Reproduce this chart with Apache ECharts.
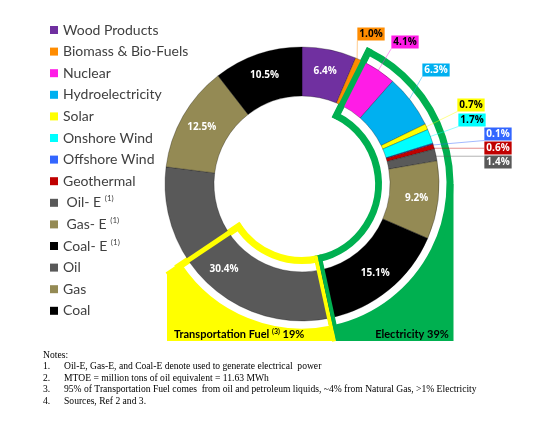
<!DOCTYPE html>
<html>
<head>
<meta charset="utf-8">
<script src="https://cdn.jsdelivr.net/npm/echarts@6/dist/echarts.min.js"></script>
<style>
  html, body { margin: 0; padding: 0; background: #fff; }
  #chart { width: 546px; height: 427px; }
</style>
</head>
<body>
<div id="chart"></div>
<script>
// Energy mix donut (share of total, %)
const categories = ['Wood Products', 'Biomass & Bio-Fuels', 'Nuclear', 'Hydroelectricity', 'Solar',
  'Onshore Wind', 'Offshore Wind', 'Geothermal', 'Oil- E', 'Gas- E', 'Coal- E', 'Oil', 'Gas', 'Coal'];
const legendLabels = ['Wood Products', 'Biomass & Bio-Fuels', 'Nuclear', 'Hydroelectricity', 'Solar',
  'Onshore Wind', 'Offshore Wind', 'Geothermal', ' Oil- E', ' Gas- E', 'Coal- E', 'Oil', 'Gas', 'Coal'];
const footnoteMarks = ['', '', '', '', '', '', '', '', '(1)', '(1)', '(1)', '', '', ''];
const shares = [6.4, 1.0, 4.1, 6.3, 0.7, 1.7, 0.1, 0.6, 1.4, 9.2, 15.1, 30.4, 12.5, 10.5];
const sliceColors = ['#7030A0', '#FF8C00', '#FF1CE6', '#00B0F0', '#FFFF00', '#00FFFF', '#3366FF',
  '#C00000', '#595959', '#948A54', '#000000', '#595959', '#948A54', '#000000'];
// text colour of the boxed outside labels (null = label drawn inside the slice)
const boxTextColors = [null, '#000', '#000', '#fff', '#000', '#000', '#fff', '#fff', '#fff',
  null, null, null, null, null];

const electricityFirst = 'Nuclear';
const electricityLast = 'Coal- E';
const electricityShare = 39;
const transportShare = 19;

const notes = [
  ['1.', 'Oil-E, Gas-E, and Coal-E denote used to generate electrical  power'],
  ['2.', 'MTOE = million tons of oil equivalent = 11.63 MWh'],
  ['3.', '95% of Transportation Fuel comes  from oil and petroleum liquids, ~4% from Natural Gas, >1% Electricity'],
  ['4.', 'Sources, Ref 2 and 3.']
];

// layout
const cx = 302, cy = 184, rIn = 88, rOut = 137;
const bandR0 = 76.5, bandR = 148, bandW = 7;
const boxBottom = 341, yellowLeft = 167;
const labelSpots = { 1: [371, 34], 2: [405, 42], 3: [436, 70], 4: [471, 105], 5: [472, 120],
  6: [498, 134], 7: [498, 148], 8: [498, 162] };

const GREEN = '#00B050', YELLOW = '#FFFF00';

const cum = [];
shares.reduce((acc, v, i) => { cum[i] = acc; return acc + v; }, 0);

function polar(f, r) {
  const a = f * 2 * Math.PI;
  return [cx + r * Math.sin(a), cy - r * Math.cos(a)];
}
function zrAngle(f) { return f * 2 * Math.PI - Math.PI / 2; }
function clamp(v, lo, hi) { return Math.max(lo, Math.min(hi, v)); }

const iFirst = categories.indexOf(electricityFirst);
const iLast = categories.indexOf(electricityLast);
const elecStart = cum[iFirst] / 100;
const elecEnd = (cum[iLast] + shares[iLast]) / 100;
const transStart = elecEnd;
const transEnd = elecEnd + transportShare / 100;

// radial line helpers
function radialAtY(f, y) {
  const a = f * 2 * Math.PI;
  const t = (y - cy) / -Math.cos(a);
  return [cx + t * Math.sin(a), y];
}
function radialAtX(f, x) {
  const a = f * 2 * Math.PI;
  const t = (x - cx) / Math.sin(a);
  return [x, cy - t * Math.cos(a)];
}
function offsetLine(p1, p2, f, d) {
  const a = f * 2 * Math.PI;
  const tx = Math.cos(a) * d, ty = Math.sin(a) * d;
  return { x1: p1[0] + tx, y1: p1[1] + ty, x2: p2[0] + tx, y2: p2[1] + ty };
}

const data = categories.map((name, i) => {
  const boxed = boxTextColors[i] !== null;
  return {
    name: name,
    value: shares[i],
    itemStyle: { color: sliceColors[i] },
    label: boxed ? {
      position: 'outside',
      color: boxTextColors[i],
      backgroundColor: sliceColors[i],
      padding: [1, 2],
      fontSize: 10,
      lineHeight: 11
    } : {
      position: 'inside',
      color: '#fff',
      fontSize: 10
    },
    labelLine: {
      show: boxed,
      lineStyle: { color: sliceColors[i], width: 1, opacity: 0.45 }
    }
  };
});

const outerRight = cx + bandR + bandW / 2;
const elecBottom = radialAtY(elecEnd, boxBottom);
const transCorner = radialAtX(transEnd, yellowLeft);

const graphics = [
  // filled boxes behind the donut
  { type: 'polygon', z: 0, shape: { points: [polar(transEnd, 140), transCorner, [yellowLeft, boxBottom], elecBottom, polar(elecEnd, 140)] },
    style: { fill: YELLOW } },
  { type: 'polygon', z: 0, shape: { points: [polar(0.25, 140), [outerRight, cy], [outerRight, boxBottom], elecBottom, polar(elecEnd, 140)] },
    style: { fill: GREEN } },
  // outline bands
  { type: 'sector', z: 1, shape: { cx: cx, cy: cy, r0: bandR0, r: bandR, startAngle: zrAngle(transStart), endAngle: zrAngle(transEnd), clockwise: true },
    style: { fill: '#fff', stroke: YELLOW, lineWidth: bandW } },
  { type: 'sector', z: 1, shape: { cx: cx, cy: cy, r0: bandR0, r: bandR, startAngle: zrAngle(elecStart), endAngle: zrAngle(elecEnd), clockwise: true },
    style: { fill: '#fff', stroke: GREEN, lineWidth: bandW } },
  // radial edges across the donut
  { type: 'line', z: 100, shape: { x1: polar(elecStart, bandR0 - 3.5)[0], y1: polar(elecStart, bandR0 - 3.5)[1], x2: polar(elecStart, bandR + 3.5)[0], y2: polar(elecStart, bandR + 3.5)[1] },
    style: { stroke: GREEN, lineWidth: 6 } },
  { type: 'line', z: 100, shape: { x1: polar(transEnd, bandR0 - 3.5)[0], y1: polar(transEnd, bandR0 - 3.5)[1], x2: transCorner[0], y2: transCorner[1] },
    style: { stroke: YELLOW, lineWidth: 5 } },
  { type: 'line', z: 100, shape: offsetLine(polar(elecEnd, bandR0 - 3.5), elecBottom, elecEnd, 2),
    style: { stroke: YELLOW, lineWidth: 4 } },
  { type: 'line', z: 100, shape: offsetLine(polar(elecEnd, bandR0 - 3.5), elecBottom, elecEnd, -2),
    style: { stroke: GREEN, lineWidth: 4 } },
  // box captions
  { type: 'text', z: 101, x: 174, y: 334,
    style: { text: 'Transportation Fuel {sup|(3)} ' + transportShare + '%', font: 'bold 11px Lato', fill: '#000',
      textVerticalAlign: 'middle', rich: { sup: { fontFamily: 'Lato', fontWeight: 'bold', fontSize: 7, verticalAlign: 'top', lineHeight: 8 } } } },
  { type: 'text', z: 101, x: 412, y: 334,
    style: { text: 'Electricity ' + electricityShare + '%', font: 'bold 11px Lato', fill: '#000', textAlign: 'center', textVerticalAlign: 'middle' } },
  // notes
  { type: 'text', z: 101, x: 43, y: 355, style: { text: 'Notes:', font: '9.6px "Liberation Serif"', fill: '#000', textVerticalAlign: 'middle' } }
];
notes.forEach((n, k) => {
  const y = 366.5 + k * 11.5;
  graphics.push({ type: 'text', z: 101, x: 43, y: y, style: { text: n[0], font: '9.6px "Liberation Serif"', fill: '#000', textVerticalAlign: 'middle' } });
  graphics.push({ type: 'text', z: 101, x: 64, y: y, style: { text: n[1], font: '9.6px "Liberation Serif"', fill: '#000', textVerticalAlign: 'middle' } });
});

const chart = echarts.init(document.getElementById('chart'));
chart.setOption({
  animation: false,
  backgroundColor: '#fff',
  legend: {
    data: categories,
    orient: 'vertical',
    left: 45,
    top: 17,
    icon: 'rect',
    itemWidth: 8,
    itemHeight: 8,
    itemGap: 5.6,
    selectedMode: false,
    itemStyle: { borderWidth: 0 },
    formatter: name => {
      const i = categories.indexOf(name);
      return legendLabels[i] + (footnoteMarks[i] ? ' {sup|' + footnoteMarks[i] + '}' : '');
    },
    textStyle: {
      fontFamily: 'Lato',
      fontSize: 14,
      color: '#404040',
      lineHeight: 16,
      rich: { sup: { fontFamily: 'Lato', fontSize: 8, color: '#404040', verticalAlign: 'top', lineHeight: 10 } }
    }
  },
  graphic: { elements: graphics },
  series: [{
    type: 'pie',
    z: 2,
    center: [cx, cy],
    radius: [rIn, rOut],
    startAngle: 90,
    clockwise: true,
    avoidLabelOverlap: false,
    silent: true,
    itemStyle: { borderColor: 'rgba(0,0,0,0.55)', borderWidth: 0.5 },
    label: {
      fontFamily: 'Open Sans',
      fontWeight: 'bold',
      formatter: p => p.value.toFixed(1) + '%'
    },
    labelLayout: params => {
      const i = params.dataIndex;
      const spot = labelSpots[i];
      if (!spot) return {};
      const w = params.labelRect.width, h = params.labelRect.height;
      const start = polar((cum[i] + shares[i] / 2) / 100, rOut - 6);
      const end = [clamp(start[0], spot[0] - w / 2, spot[0] + w / 2), clamp(start[1], spot[1] - h / 2, spot[1] + h / 2)];
      return { x: spot[0], y: spot[1], align: 'center', verticalAlign: 'middle', labelLinePoints: [start, end, end] };
    },
    data: data
  }]
});
</script>
</body>
</html>
